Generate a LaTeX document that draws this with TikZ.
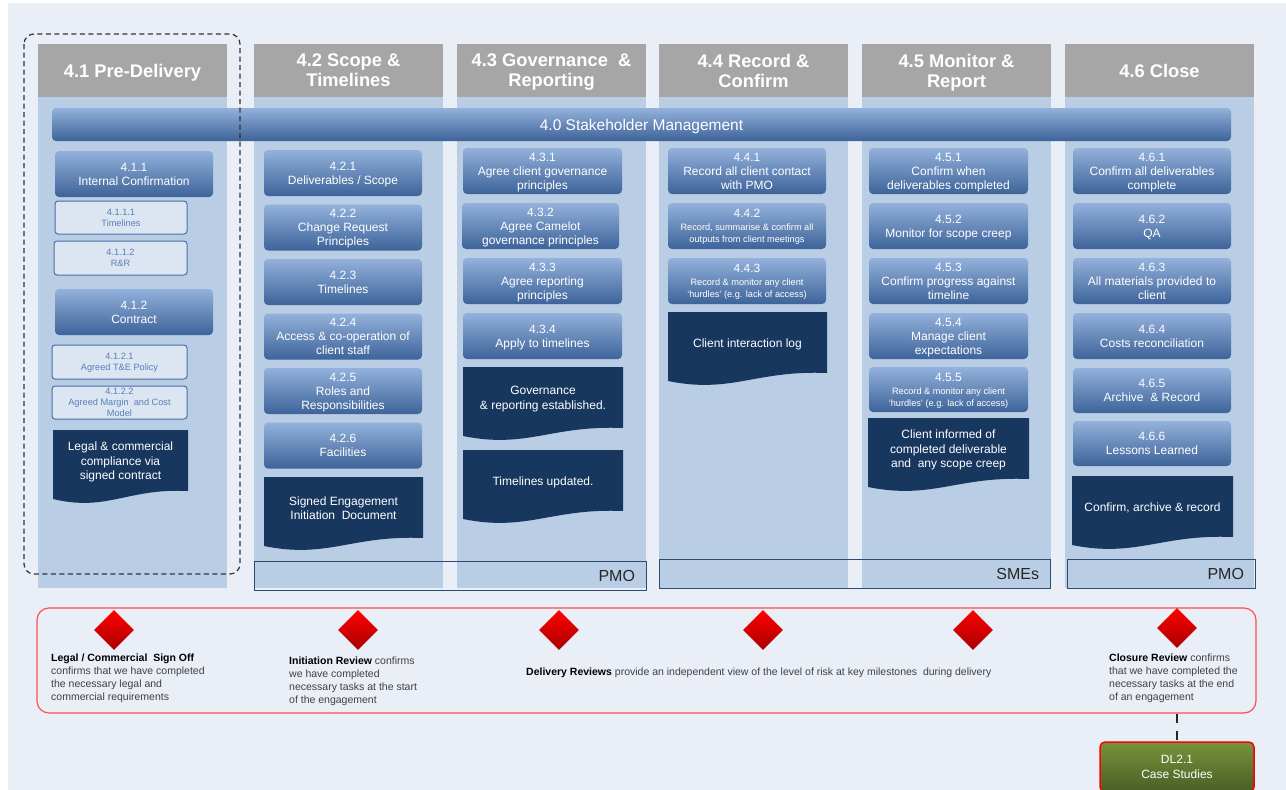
\documentclass[tikz,border=0pt]{standalone}
\usepackage{fontspec}
\setmainfont{Liberation Sans}
\usetikzlibrary{shapes.geometric,calc}
\definecolor{bg}{HTML}{EAEFF7}
\definecolor{headgray}{HTML}{A6A6A6}
\definecolor{bodyblue}{HTML}{B9CDE5}
\definecolor{tasktop}{HTML}{93B1DB}
\definecolor{taskbot}{HTML}{3D6399}
\definecolor{subfill}{HTML}{DCE6F2}
\definecolor{subdraw}{HTML}{4A6FA5}
\definecolor{subtext}{HTML}{5A7EB5}
\definecolor{docfill}{HTML}{17375E}
\definecolor{ownerline}{HTML}{2E4A72}
\definecolor{revred}{HTML}{FF4F4F}
\definecolor{diatop}{HTML}{FF0000}
\definecolor{diabot}{HTML}{A80000}
\definecolor{greentop}{HTML}{77933C}
\definecolor{greenbot}{HTML}{4A5E24}
\definecolor{greytext}{HTML}{404040}
\newcommand{\smalldesc}{\fontsize{9.2}{10.5}\selectfont}
\newcommand{\docbox}[5]{%
  \fill[docfill] (#2,#4) -- (#3,#4) -- (#3,{#4+61})
    .. controls ({#2+0.55*(#3-#2)},{#4+58}) and ({#2+0.4*(#3-#2)},{#4+82}) .. (#2,{#4+69}) -- cycle;
  \node[doctext] (#1) at ({(#2+#3)/2},{#4+31}) {#5};}
\begin{document}
\begin{tikzpicture}[x=1pt,y=-1pt,
  colhead/.style={fill=headgray, text=white, font=\bfseries\fontsize{18.3}{20}\selectfont, align=center, minimum width=189pt, minimum height=53pt, inner sep=0pt, text depth=0pt},
  colbody/.style={fill=bodyblue, minimum width=189pt, minimum height=491pt, inner sep=0pt},
  shbar/.style={rounded corners=4pt, top color=tasktop, bottom color=taskbot, text=white, font=\fontsize{15.5}{17}\selectfont, minimum width=1179pt, minimum height=33pt, inner sep=0pt, text depth=0pt},
  task/.style={rounded corners=4pt, top color=tasktop, bottom color=taskbot, text=white, align=center, font=\fontsize{12}{14}\selectfont, inner sep=0pt, minimum width=158pt, minimum height=46pt, text depth=0pt},
  subbox/.style={rounded corners=3pt, fill=subfill, draw=subdraw, line width=1pt, text=subtext, align=center, font=\fontsize{9.2}{11}\selectfont, inner sep=0pt, minimum width=132pt, minimum height=33pt, text depth=0pt},
  doctext/.style={text=white, align=center, font=\fontsize{12}{14.5}\selectfont, inner sep=0pt, text depth=0pt},
  owner/.style={draw=ownerline, line width=1pt, minimum height=29pt, inner xsep=11pt, inner ysep=0pt, align=right, font=\fontsize{16}{18}\selectfont, text=black!85},
  review/.style={draw=revred, line width=1.2pt, rounded corners=12pt, minimum width=1219pt, minimum height=105pt, inner sep=0pt},
  gate/.style={diamond, top color=diatop, bottom color=diabot, minimum width=40pt, minimum height=40pt, inner sep=0pt},
  note/.style={font=\fontsize{10.5}{13}\selectfont, text=greytext, align=left, inner sep=0pt},
  deliv/.style={rounded corners=5pt, draw=red, line width=1.5pt, top color=greentop, bottom color=greenbot, text=white, align=center, font=\fontsize{12}{15}\selectfont, minimum width=154pt, minimum height=50pt, inner sep=0pt},
  link/.style={draw=black!85, line width=2.5pt, dash pattern=on 9pt off 8pt},
  preframe/.style={draw=black!80, line width=1.2pt, dash pattern=on 5pt off 3.5pt, rounded corners=10pt}
]
\useasboundingbox (0,0) rectangle (1286,790);
\clip (0,0) rectangle (1286,790);
\fill[bg] (0,0) rectangle (1286,790);
\fill[white] (0,0) rectangle (8,790);
\fill[white] (0,0) rectangle (1286,3);

% columns
\node[colbody] (b41) at (132.5,342.5) {};
\node[colbody] (b42) at (348.5,342.5) {};
\node[colbody] (b43) at (551.5,342.5) {};
\node[colbody] (b44) at (753.5,342.5) {};
\node[colbody] (b45) at (956.5,342.5) {};
\node[colbody] (b46) at (1159.5,342.5) {};
\node[colhead] (h41) at (132.5,70.5) {4.1 Pre-Delivery};
\node[colhead] (h42) at (348.5,70.5) {4.2 Scope \&\\Timelines};
\node[colhead] (h43) at (551.5,70.5) {4.3 Governance~~\&\\Reporting};
\node[colhead] (h44) at (753.5,70.5) {4.4 Record \&\\Confirm};
\node[colhead] (h45) at (956.5,70.5) {4.5 Monitor \&\\Report};
\node[colhead] (h46) at (1159.5,70.5) {4.6 Close};

% stakeholder bar
\node[shbar] (sh) at (641.5,124.5) {4.0 Stakeholder Management};

% column 4.1
\node[task] (t411) at (134,174) {4.1.1\\Internal Confirmation};
\node[subbox] (t4111) at (121,217.5) {4.1.1.1\\Timelines};
\node[subbox, minimum width=133pt, minimum height=34pt] (t4112) at (120.5,258) {4.1.1.2\\R\&R};
\node[task] (t412) at (134,312) {4.1.2\\Contract};
\node[subbox, minimum width=135pt, minimum height=34pt] (t4121) at (119.5,362) {4.1.2.1\\Agreed T\&E Policy};
\node[subbox, minimum width=135pt] (t4122) at (119.5,402.5) {4.1.2.2\\Agreed Margin~ and Cost\\Model};
\docbox{d41}{53}{188}{430}{Legal \& commercial\\compliance via\\signed contract}

% column 4.2
\node[task] (t421) at (343,173) {4.2.1\\Deliverables / Scope};
\node[task] (t422) at (343,227.5) {4.2.2\\Change Request\\Principles};
\node[task] (t423) at (343,282) {4.2.3\\Timelines};
\node[task] (t424) at (343,336.5) {4.2.4\\Access \& co-operation of\\client staff};
\node[task] (t425) at (343,391) {4.2.5\\Roles and\\Responsibilities};
\node[task] (t426) at (343,445.5) {4.2.6\\Facilities};
\docbox{d42}{264}{423}{477}{Signed Engagement\\Initiation~ Document}

% column 4.3
\node[task, minimum width=159pt] (t431) at (542.5,171) {4.3.1\\Agree client governance\\principles};
\node[task, minimum width=157pt] (t432) at (540.5,226) {4.3.2\\Agree Camelot\\governance principles};
\node[task, minimum width=159pt] (t433) at (542.5,281) {4.3.3\\Agree reporting\\principles};
\node[task, minimum width=159pt] (t434) at (542.5,336) {4.3.4\\Apply to timelines};
\docbox{d43a}{463}{623}{367}{Governance\\\& reporting established.}
\docbox{d43b}{463}{623}{450}{Timelines updated.}

% column 4.4
\node[task] (t441) at (747,171) {4.4.1\\Record all client contact\\with PMO};
\node[task] (t442) at (747,226) {4.4.2\\[-1pt]{\smalldesc Record, summarise \& confirm all}\\[-2pt]{\smalldesc outputs from client meetings}};
\node[task] (t443) at (747,281) {4.4.3\\[-1pt]{\smalldesc Record \& monitor any client}\\[-2pt]{\smalldesc `hurdles' (e.g. lack of access)}};
\docbox{d44}{668}{827}{312}{Client interaction log}

% column 4.5
\node[task, minimum width=159pt] (t451) at (948.5,171) {4.5.1\\Confirm when\\deliverables completed};
\node[task, minimum width=159pt] (t452) at (948.5,226) {4.5.2\\Monitor for scope creep};
\node[task, minimum width=159pt] (t453) at (948.5,281) {4.5.3\\Confirm progress against\\timeline};
\node[task, minimum width=159pt] (t454) at (948.5,336) {4.5.4\\Manage client\\expectations};
\node[task, minimum width=159pt, minimum height=45pt] (t455) at (948.5,389.5) {4.5.5\\[-1pt]{\smalldesc Record \& monitor any client}\\[-2pt]{\smalldesc `hurdles' (e.g. lack of access)}};
\docbox{d45}{868}{1029}{418}{Client informed of\\completed deliverable\\and~ any scope creep}

% column 4.6
\node[task] (t461) at (1152,171) {4.6.1\\Confirm all deliverables\\complete};
\node[task] (t462) at (1152,226) {4.6.2\\QA};
\node[task] (t463) at (1152,281) {4.6.3\\All materials provided to\\client};
\node[task] (t464) at (1152,336) {4.6.4\\Costs reconciliation};
\node[task, minimum height=45pt] (t465) at (1152,390.5) {4.6.5\\Archive~ \& Record};
\node[task, minimum height=45pt] (t466) at (1152,443.5) {4.6.6\\Lessons Learned};
\docbox{d46}{1072}{1233}{476}{Confirm, archive \& record}

% owners
\node[owner, text width=370pt] (o1) at (450,576) {PMO};
\node[owner, text width=369pt] (o2) at (854.5,574) {SMEs};
\node[owner, text width=166pt] (o3) at (1161,574) {PMO};

% pre-delivery frame
\draw[preframe] (24,34) rectangle (240,574);

% review band
\node[review] (rev) at (646.5,660.5) {};
\node[gate] (g1) at (114,630) {};
\node[gate] (g2) at (358,630) {};
\node[gate] (g3) at (559,630) {};
\node[gate] (g4) at (763,630) {};
\node[gate] (g5) at (973,630) {};
\node[gate] (g6) at (1177,628) {};
\node[note, anchor=north west] (n1) at (51,654) {\textcolor{black}{\textbf{Legal / Commercial~~Sign Off}}\\confirms that we have completed\\the necessary legal and\\commercial requirements};
\node[note, anchor=north west] (n2) at (289,657) {\textcolor{black}{\textbf{Initiation Review}} confirms\\we have completed\\necessary tasks at the start\\of the engagement};
\node[note, anchor=west] (n3) at (526,673) {\textcolor{black}{\textbf{Delivery Reviews}} provide an independent view of the level of risk at key milestones~ during delivery};
\node[note, anchor=north west] (n4) at (1109,654) {\textcolor{black}{\textbf{Closure Review}} confirms\\that we have completed the\\necessary tasks at the end\\of an engagement};

% deliverable
\node[deliv] (dl) at (1177,767) {DL2.1\\Case Studies};
\draw[link] (rev.south -| dl.north) -- (dl.north);
\end{tikzpicture}
\end{document}
